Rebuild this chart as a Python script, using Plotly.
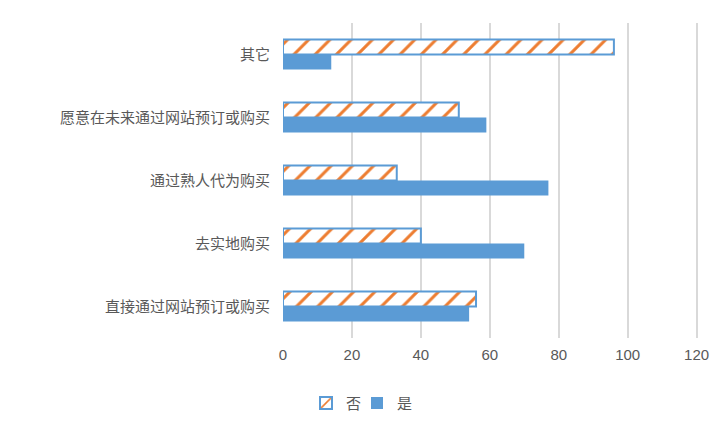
import plotly.graph_objects as go

categories = ["直接通过网站预订或购买", "去实地购买", "通过熟人代为购买", "愿意在未来通过网站预订或购买", "其它"]
no_values = [56, 40, 33, 51, 96]
yes_values = [54, 70, 77, 59, 14]
x_ticks = [0, 20, 40, 60, 80, 100, 120]

BLUE = "#5B9BD5"
ORANGE = "#ED7D31"
TXT = "#595959"
FONT = "Noto Sans CJK SC"

fig = go.Figure()
fig.add_trace(go.Bar(
    y=categories, x=yes_values, orientation="h", name="是",
    marker=dict(color=BLUE, line=dict(width=0)), legend="legend2",
))
fig.add_trace(go.Bar(
    y=categories, x=no_values, orientation="h", name="否",
    marker=dict(color="white", line=dict(color=BLUE, width=2),
                pattern=dict(shape="/", fgcolor=ORANGE, bgcolor="white", size=15, solidity=0.2, fgopacity=1)),
    legend="legend",
))

leg_common = dict(orientation="h", xref="container", yref="container", y=0.085,
                  xanchor="left", yanchor="middle", font=dict(family=FONT, size=15, color=TXT),
                  itemwidth=30, bgcolor="rgba(0,0,0,0)")

# page body has an 8px default margin; margins compensate so the plot lands where the reference has it
fig.update_layout(
    width=720, height=432,
    margin=dict(l=275, r=30, t=15, b=102, autoexpand=False),
    paper_bgcolor="white", plot_bgcolor="white",
    barmode="group", bargap=0.52, bargroupgap=0,
    font=dict(family=FONT, color=TXT, size=14),
    xaxis=dict(range=[0, 120.4], tickvals=x_ticks, showgrid=True, gridcolor="#D9D9D9", gridwidth=1.5,
               zeroline=False, showline=False, ticks="", automargin=False, ticklabelstandoff=6,
               tickfont=dict(family="Liberation Sans, Noto Sans", size=15, color=TXT)),
    yaxis=dict(categoryorder="array", categoryarray=categories, showgrid=False, zeroline=False,
               showline=False, ticks="", automargin=False, ticklabelstandoff=12,
               tickfont=dict(family=FONT, size=15, color=TXT)),
    legend=dict(x=298 / 720, **leg_common),
    legend2=dict(x=349 / 720, **leg_common),
    showlegend=True,
)

fig.write_html("out.html")
